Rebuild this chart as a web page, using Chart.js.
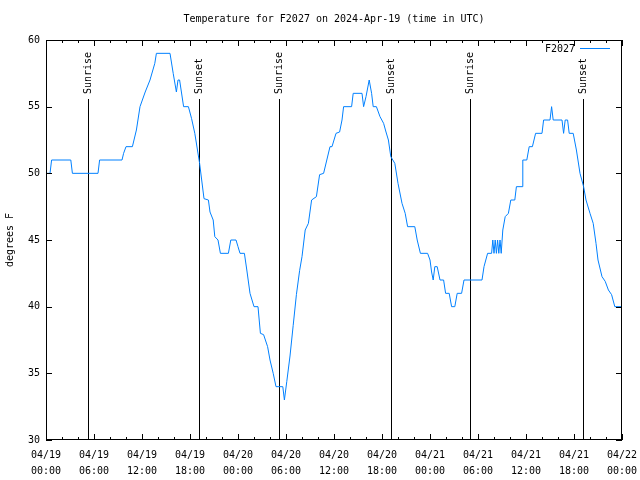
<!DOCTYPE html>
<html>
<head>
<meta charset="utf-8">
<title>F2027 temperature</title>
<script src="https://cdn.jsdelivr.net/npm/chart.js@4.4.1/dist/chart.umd.min.js"></script>
<style>
  body{ margin:0; background:#fff; }
  canvas{ display:block; }
</style>
</head>
<body>
<canvas id="myChart" width="640" height="480"></canvas>
<script>
// hours since 04/19 00:00 UTC
const hours = [0,0.5,0.7,3.1,3.3,6.5,6.7,9.5,9.7,10.0,10.8,11.3,11.75,12.4,13.0,13.6,13.8,15.5,15.9,16.3,16.5,16.7,17.2,17.8,18.2,18.6,19.2,19.75,20.3,20.5,20.9,21.1,21.5,21.8,22.8,23.1,23.75,24.0,24.25,24.8,25.1,25.5,26.0,26.5,26.8,27.2,27.7,28.0,28.4,28.75,29.6,29.8,30.1,30.5,30.9,31.3,31.7,32.0,32.4,32.8,33.2,33.8,34.2,34.7,35.1,35.5,35.75,36.25,36.7,37.0,37.2,38.2,38.4,39.5,39.7,40.0,40.4,40.7,40.9,41.3,41.75,42.2,42.5,42.8,43.1,43.6,44.0,44.5,44.9,45.2,46.1,46.4,46.8,47.7,48.0,48.2,48.4,48.6,48.9,49.25,49.7,49.95,50.4,50.7,51.1,51.4,51.95,52.25,54.5,54.75,55.2,55.7,55.85,56.0,56.15,56.3,56.45,56.6,56.75,56.9,57.1,57.4,57.8,58.1,58.6,58.8,59.5,59.6,60.1,60.4,60.8,61.2,62.0,62.2,63.0,63.2,63.4,64.5,64.7,64.9,65.2,65.4,65.9,66.3,66.75,67.2,67.5,68.0,68.4,68.75,69.0,69.5,69.9,70.3,70.7,71.1,72];
const temps = [50,50,51,51,50,50,51,51,51.5,52,52,53.25,55,56.1,57,58.25,59,59,57.5,56.1,57,57,55,55,54.1,53,50.75,48.1,48,47.1,46.5,45.25,45,44,44,45,45,44.5,44,44,42.75,41,40,40,38,37.9,37,36,35,34,34,33,34.4,36.3,38.6,40.9,42.7,43.75,45.75,46.25,48,48.25,49.9,50,51,52,52,53,53.1,54,55,55,56,56,55,55.75,57,56,55,55,54.25,53.75,53.1,52.5,51.25,50.75,49.25,47.75,47,46,46,45,44,44,43.5,42.6,42,43,43,42,42,41,41,40,40,41,41,42,42,43,44,44,45,44,45,44,45,44,45,44,45.75,46.75,47,48,48,49,49,51,51,52,52,53,53,54,54,55,54,54,53,54,54,53,53,51.75,50,49,48,47,46.25,44.75,43.5,42.25,41.9,41.25,40.9,40,40];

const sunTimes = [5.25, 19.1, 29.1, 43.1, 53.0, 67.1];
const sunLabels = ["Sunrise","Sunset","Sunrise","Sunset","Sunrise","Sunset"];
const dayLabels = ["04/19","04/19","04/19","04/19","04/20","04/20","04/20","04/20","04/21","04/21","04/21","04/21","04/22"];
const timeLabels = ["00:00","06:00","12:00","18:00"];

const FONT = '10px "DejaVu Sans Mono", monospace';
const LINE_COLOR = 'rgb(0,128,255)';

// sunrise/sunset markers under the data
const sunLines = {
  id: 'sunLines',
  beforeDatasetsDraw(chart){
    const ctx = chart.ctx, a = chart.chartArea, xs = chart.scales.x;
    ctx.save();
    ctx.strokeStyle = '#000';
    ctx.lineWidth = 1;
    ctx.fillStyle = '#000';
    ctx.font = FONT;
    sunTimes.forEach((t, i) => {
      const x = Math.round(xs.getPixelForValue(t)) + 0.5;
      ctx.beginPath();
      ctx.moveTo(x, a.bottom);
      ctx.lineTo(x, 99);
      ctx.stroke();
      ctx.save();
      ctx.translate(x, 94);
      ctx.rotate(-Math.PI / 2);
      ctx.textAlign = 'left';
      ctx.textBaseline = 'middle';
      ctx.fillText(sunLabels[i], 0, 0);
      ctx.restore();
    });
    ctx.restore();
  }
};

// gnuplot style frame, inward ticks, title and key
const frame = {
  id: 'frame',
  afterDraw(chart){
    const ctx = chart.ctx, a = chart.chartArea;
    const xs = chart.scales.x, ys = chart.scales.y;
    ctx.save();
    ctx.strokeStyle = '#000';
    ctx.lineWidth = 1;
    ctx.strokeRect(a.left + 0.5, a.top + 0.5, a.right - a.left - 1, a.bottom - a.top - 1);
    ctx.beginPath();
    xs.ticks.forEach(tk => {
      const x = Math.round(xs.getPixelForValue(tk.value)) + 0.5;
      const len = tk.value % 6 === 0 ? 6 : 3;
      ctx.moveTo(x, a.bottom); ctx.lineTo(x, a.bottom - len);
      ctx.moveTo(x, a.top); ctx.lineTo(x, a.top + len);
    });
    ys.ticks.forEach(tk => {
      const y = Math.round(ys.getPixelForValue(tk.value)) + 0.5;
      ctx.moveTo(a.left, y); ctx.lineTo(a.left + 6, y);
      ctx.moveTo(a.right, y); ctx.lineTo(a.right - 6, y);
    });
    ctx.stroke();

    ctx.fillStyle = '#000';
    ctx.font = FONT;
    ctx.textBaseline = 'middle';
    ctx.textAlign = 'center';
    ctx.fillText('Temperature for F2027 on 2024-Apr-19 (time in UTC)', (a.left + a.right) / 2, 19);

    // key
    ctx.textAlign = 'right';
    ctx.fillText('F2027', 575, 49);
    ctx.strokeStyle = LINE_COLOR;
    ctx.beginPath();
    ctx.moveTo(580, 48.5);
    ctx.lineTo(610, 48.5);
    ctx.stroke();
    ctx.restore();
  }
};

const myChart = new Chart(document.getElementById('myChart'), {
  type: 'line',
  data: {
    datasets: [{
      label: 'F2027',
      data: hours.map((h, i) => ({x: h, y: temps[i]})),
      borderColor: LINE_COLOR,
      borderWidth: 1,
      pointRadius: 0,
      tension: 0,
      fill: false
    }]
  },
  options: {
    responsive: false,
    animation: false,
    layout: { padding: { top: 40, right: 18, left: 0, bottom: 0 } },
    plugins: {
      legend: { display: false },
      title: { display: false },
      tooltip: { enabled: false }
    },
    scales: {
      x: {
        type: 'linear',
        min: 0, max: 72,
        grid: { display: false, drawTicks: false },
        border: { display: false },
        afterFit(s){ s.height = 40; s.paddingLeft = 0; s.paddingRight = 0; },
        ticks: {
          stepSize: 2,
          autoSkip: false,
          maxRotation: 0,
          padding: 7,
          color: '#000',
          font: { family: '"DejaVu Sans Mono", monospace', size: 10, lineHeight: 1.6 },
          callback(v){
            if (v % 6 !== 0) return '';
            return [dayLabels[v / 6], timeLabels[(v / 6) % 4]];
          }
        }
      },
      y: {
        min: 30, max: 60,
        grid: { display: false, drawTicks: false },
        border: { display: false },
        afterFit(s){ s.width = 46; s.paddingTop = 0; s.paddingBottom = 0; },
        title: {
          display: true,
          text: 'degrees F',
          color: '#000',
          padding: { top: 4, bottom: 0 },
          font: { family: '"DejaVu Sans Mono", monospace', size: 10 }
        },
        ticks: {
          stepSize: 5,
          padding: 6,
          color: '#000',
          font: { family: '"DejaVu Sans Mono", monospace', size: 10 }
        }
      }
    }
  },
  plugins: [sunLines, frame]
});
</script>
</body>
</html>
